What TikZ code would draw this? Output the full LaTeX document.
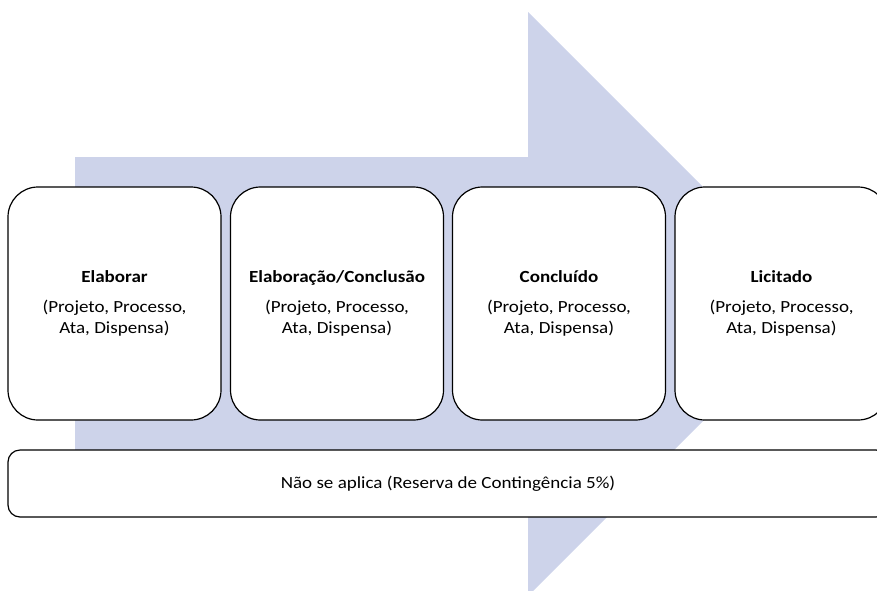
\documentclass[tikz,border=0pt]{standalone}
\usepackage{fontspec}
\setmainfont{Carlito}[FakeStretch=1.12]
\definecolor{arrowfill}{RGB}{205,211,234}
\begin{document}
\begin{tikzpicture}[x=1pt,y=-1pt,
  stage/.style={draw=black, line width=1.2pt, fill=white, rounded corners=30pt,
    minimum width=213pt, minimum height=233pt, align=center, inner sep=0pt,
    font=\fontsize{17pt}{20.7pt}\selectfont},
  base/.style={draw=black, line width=1.2pt, fill=white, rounded corners=12pt,
    minimum width=880pt, minimum height=67pt, inner sep=0pt,
    font=\fontsize{17pt}{20.7pt}\selectfont}]
\useasboundingbox (0,0) rectangle (877,590);
\clip (0,0) rectangle (877,590);
\fill[arrowfill] (75,157) -- (528,157) -- (528,12) -- (820,304) -- (528,596)
  -- (528,451) -- (75,451) -- cycle;
\node[stage] (s1) at (114.5,303.5) {\textbf{Elaborar}\\[9pt](Projeto, Processo,\\Ata, Dispensa)};
\node[stage] (s2) at (337,303.5) {\textbf{Elaboração/Conclusão}\\[9pt](Projeto, Processo,\\Ata, Dispensa)};
\node[stage] (s3) at (559,303.5) {\textbf{Concluído}\\[9pt](Projeto, Processo,\\Ata, Dispensa)};
\node[stage] (s4) at (781.5,303.5) {\textbf{Licitado}\\[9pt](Projeto, Processo,\\Ata, Dispensa)};
\node[base] (nb) at (448,483.5) {Não se aplica (Reserva de Contingência 5\%)};
\end{tikzpicture}
\end{document}
